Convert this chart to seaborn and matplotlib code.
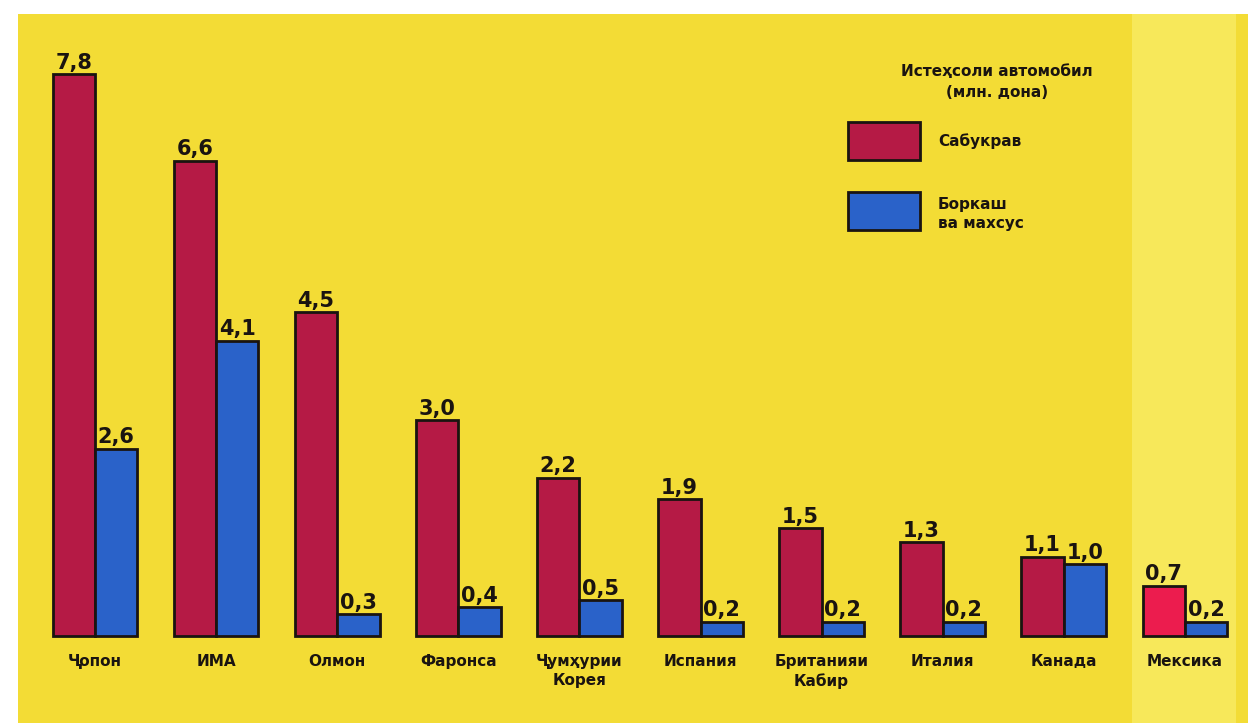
import matplotlib
matplotlib.use("Agg")
import matplotlib.pyplot as plt
import seaborn as sns
import pandas as pd
from matplotlib.patches import Rectangle

countries = ["Ҷопон", "ИМА", "Олмон", "Фаронса", "Ҷумҳурии\nКорея", "Испания",
             "Британияи\nКабир", "Италия", "Канада", "Мексика"]
passenger = [7.8, 6.6, 4.5, 3.0, 2.2, 1.9, 1.5, 1.3, 1.1, 0.7]
trucks = [2.6, 4.1, 0.3, 0.4, 0.5, 0.2, 0.2, 0.2, 1.0, 0.2]
series_names = ["Сабукрав", "Боркаш\nва махсус"]
legend_title = "Истеҳсоли автомобил\n(млн. дона)"

df = pd.DataFrame({
    "country": countries * 2,
    "value": passenger + trucks,
    "type": [series_names[0]] * len(countries) + [series_names[1]] * len(countries),
})

RED = "#b51a45"
RED_MEX = "#ec1c4e"
BLUE = "#2a62c9"
YELLOW = "#f3dc35"

sns.set_theme(style="white")
plt.rcParams["font.family"] = ["DejaVu Sans"]

W, H = 1248, 723
fig = plt.figure(figsize=(W / 100, H / 100), dpi=100)
fig.patch.set_facecolor("white")

# yellow page background
fig.patches.append(Rectangle((18 / W, 0), 1 - 18 / W, 1 - 14 / H, transform=fig.transFigure,
                             facecolor=YELLOW, edgecolor="none", zorder=-10))
# lighter panel for Mexico
fig.patches.append(Rectangle((1132 / W, 0), 104 / W, 1 - 14 / H, transform=fig.transFigure,
                             facecolor="#f7e85a", edgecolor="none", zorder=-9))

ax = fig.add_axes([0, 0, 1, 1])
ax.set_facecolor("none")

sns.barplot(data=df, x="country", y="value", hue="type", order=countries,
            hue_order=series_names, palette=[RED, BLUE], saturation=1, width=0.7,
            edgecolor="#1a1410", linewidth=2.0, legend=False, ax=ax, zorder=3)

# colour Mexico passenger bar brighter red
ax.patches[len(countries) - 1].set_facecolor(RED_MEX)

px_per_unit = 72.0
base_px = 636
center0 = 95
spacing = 121.1
ax.set_xlim(-center0 / spacing, (len(countries) - 1) + (W - (center0 + spacing * (len(countries) - 1))) / spacing)
ax.set_ylim(-(H - base_px) / px_per_unit, base_px / px_per_unit)
ax.axis("off")

# value labels
for container in ax.containers:
    labels = [f"{v:.1f}".replace(".", ",") for v in container.datavalues]
    ax.bar_label(container, labels=labels, padding=1, fontsize=15, fontweight="bold",
                 color="#1a1410", zorder=5)

# category labels
for i, c in enumerate(countries):
    ax.text(i, -0.25, c, ha="center", va="top", fontsize=11, fontweight="bold",
            color="#1a1410", linespacing=1.3)

# legend (manual)
ax_px = lambda x, y: (x / W, 1 - y / H)
fig.text(*ax_px(997, 82), legend_title, ha="center", va="center", fontsize=11,
         fontweight="bold", color="#1a1410", linespacing=1.5)
for k, (col, name) in enumerate(zip([RED, BLUE], series_names)):
    y_top = 122 + k * 70
    fig.patches.append(Rectangle((848 / W, 1 - (y_top + 38) / H), 72 / W, 38 / H,
                                 transform=fig.transFigure, facecolor=col,
                                 edgecolor="#1a1410", linewidth=2.0, zorder=5))
    fig.text(*ax_px(938, y_top + 19 if k == 0 else y_top + 22), name, ha="left", va="center",
             fontsize=11, fontweight="bold", color="#1a1410", linespacing=1.4)

fig.savefig("out.png", dpi=100, facecolor=fig.get_facecolor())
